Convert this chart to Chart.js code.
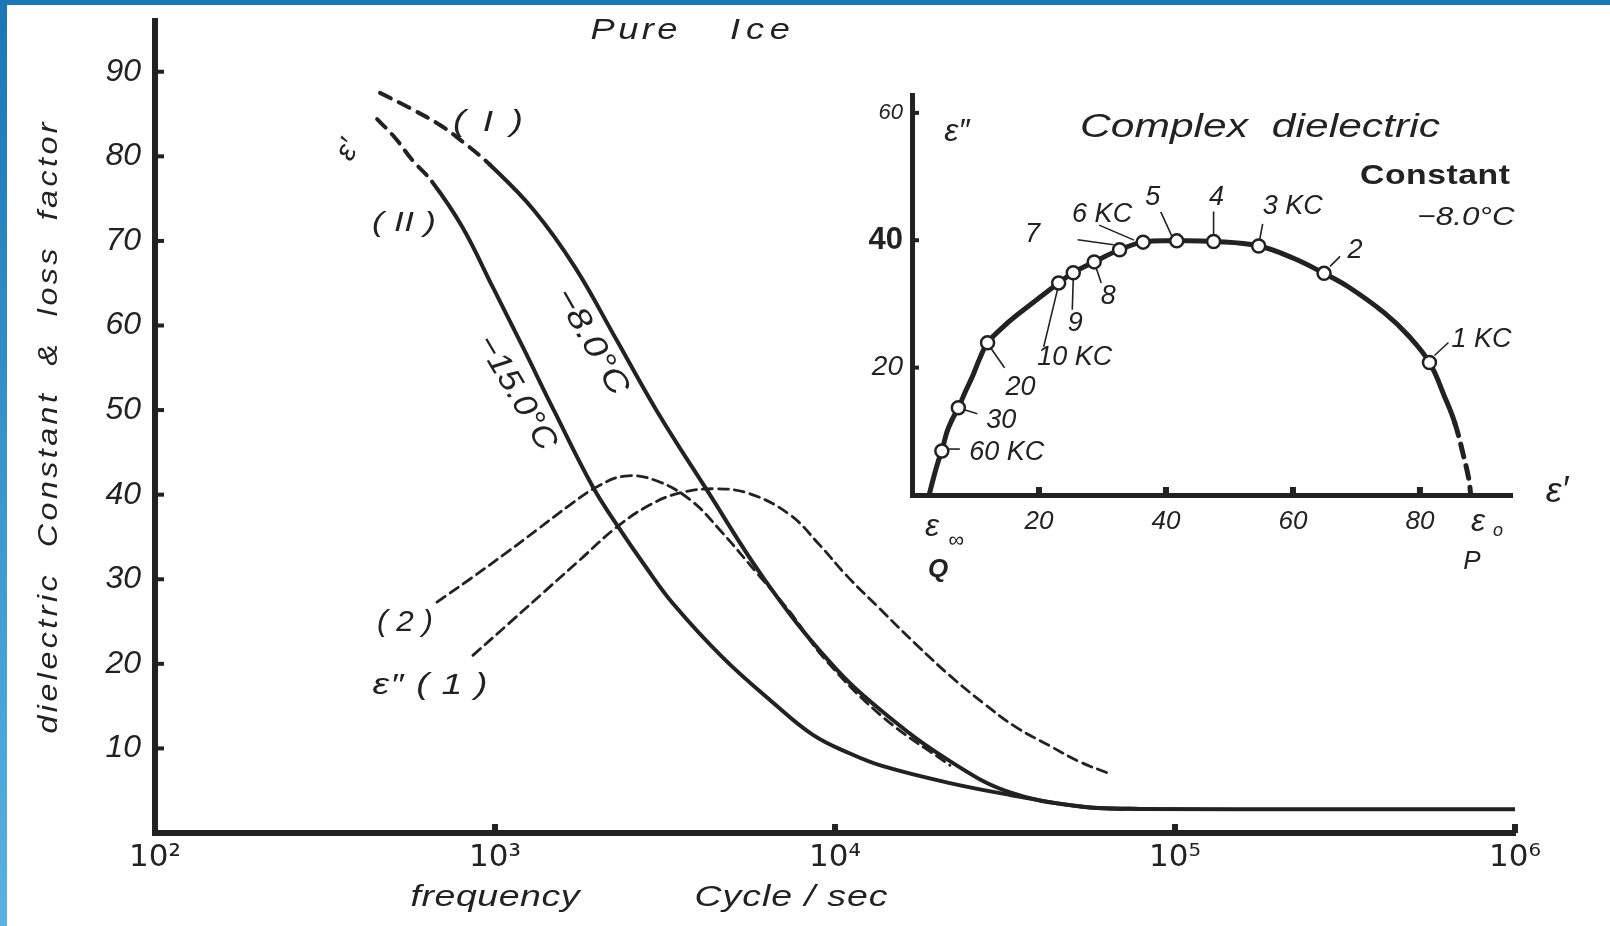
<!DOCTYPE html>
<html><head><meta charset="utf-8">
<script src="https://cdn.jsdelivr.net/npm/chart.js@4.4.1/dist/chart.umd.min.js"></script>
<style>
html,body{margin:0;padding:0;background:#fff;}
#wrap{position:relative;width:1610px;height:926px;overflow:hidden;background:#fff;}
#bl{position:absolute;left:0;top:0;width:7px;height:926px;background:linear-gradient(#1a76b6,#58b2e2);}
#bt{position:absolute;left:0;top:0;width:1610px;height:5px;background:#1b78b8;}
#main{position:absolute;left:0;top:0;}
#inset{position:absolute;left:820px;top:60px;}
</style></head><body>
<div id="wrap">
<canvas id="main" width="1610" height="926"></canvas>
<canvas id="inset" width="790" height="560"></canvas>
<div id="bl"></div><div id="bt"></div>
</div>
<script>
const INK = '#222';
const FONT = "'Liberation Sans', 'DejaVu Sans', sans-serif";

// ---------- main chart data ----------
const xTickValues = [1e2, 1e3, 1e4, 1e5, 1e6];
const xTickLabels = ['10²', '10³', '10⁴', '10⁵', '10⁶'];
const yTickValues = [10, 20, 30, 40, 50, 60, 70, 80, 90];

// (I) ε' at -8.0°C : extrapolated part (dashed) then measured part (solid)
const curveIExtFreq = [459, 562, 689, 805];
const curveIExtEps  = [87.5, 85.7, 83.7, 81.7];
const curveIFreq = [966, 1303, 1718, 2270, 2992, 4207, 6223, 9661, 13836, 21777, 32734, 53580, 78886, 316228, 1000000];
const curveIEps  = [79.0, 73.6, 66.9, 58.4, 49.9, 40.5, 29.9, 20.2, 14.3, 8.5, 4.8, 3.1, 2.85, 2.8, 2.8];

// (II) ε' at -15.0°C
const curveIIExtFreq = [450, 508, 570];
const curveIIExtEps  = [84.4, 82.2, 79.6];
const curveIIFreq = [653, 800, 986, 1216, 1493, 1941, 2286, 2761, 3342, 4688, 6577, 8610, 11066, 13836, 21777, 32734, 53580, 78886];
const curveIIEps  = [77.0, 71.7, 64.5, 57.2, 49.9, 40.9, 36.4, 31.6, 27.1, 20.7, 15.4, 11.6, 9.4, 7.9, 5.9, 4.5, 3.1, 2.85];

// (1) ε'' at -8.0°C ; (2) ε'' at -15.0°C
const loss1Freq = [861, 1107, 1403, 1778, 2286, 2858, 3499, 4436, 5623, 7379, 9036, 10839, 13552, 17418, 21777, 27227, 33806, 42855, 52602, 65313];
const loss1Eps  = [21.0, 24.9, 28.6, 32.3, 36.2, 38.8, 40.2, 40.7, 40.1, 37.6, 34.0, 30.4, 26.5, 22.2, 18.6, 15.4, 12.6, 10.3, 8.4, 6.9];
const loss2Freq = [675, 843, 1069, 1355, 1663, 2009, 2410, 2958, 3750, 4592, 5902, 7379, 9226, 13836, 21777];
const loss2Eps  = [27.3, 30.0, 33.0, 36.1, 38.8, 41.0, 42.2, 41.7, 39.4, 35.8, 30.7, 26.1, 20.8, 13.7, 8.0];

// ---------- inset (Cole-Cole plot, -8.0°C) data ----------
const insetXTicks = [20, 40, 60, 80];
const insetYTicks = [20, 40, 60];
const coleEps1 = [2.7, 3.5, 4.1, 4.7, 5.5, 6.3, 7.3, 8.4, 9.6, 10.7, 11.9, 14.7, 17.5, 23.1, 25.4, 28.7, 32.7, 36.4, 41.7, 47.5, 54.6, 60.0, 64.9, 68.7, 74.4, 78.2, 81.5, 83.9, 85.5];
const coleEps2 = [0, 3.1, 5.2, 6.9, 9.9, 11.8, 13.7, 16.2, 18.8, 21.5, 23.9, 26.7, 29.0, 33.3, 34.9, 36.6, 38.5, 39.7, 39.9, 39.8, 39.1, 37.2, 34.8, 32.7, 28.6, 25.0, 20.8, 15.4, 11.3];
const coleExtEps1 = [86.9, 87.7, 88.0];
const coleExtEps2 = [6.0, 2.5, 0];
const pointKc   = ['1 KC', '2', '3 KC', '4', '5', '6 KC', '7', '8', '9', '10 KC', '20', '30', '60 KC'];
const pointEps1 = [81.5, 64.9, 54.6, 47.5, 41.7, 36.4, 32.7, 28.7, 25.4, 23.1, 11.9, 7.3, 4.7];
const pointEps2 = [20.8, 34.8, 39.1, 39.8, 39.9, 39.7, 38.5, 36.6, 34.9, 33.3, 23.9, 13.7, 6.9];

// label placement (style only): text centre and leader line relative to each point, px
const kcLabelPlace = [
  {dx:52, dy:-23, a:[5,-7], b:[19,-20]},
  {dx:31, dy:-23, a:[6,-7], b:[16,-17]},
  {dx:34, dy:-39, a:[1,-6], b:[4,-22]},
  {dx:3,  dy:-44, a:[0,-6], b:[0,-30]},
  {dx:-24,dy:-43, a:[-5,-5], b:[-16,-29]},
  {dx:-41,dy:-28, a:[-9,-2], b:[-44,-17]},
  {dx:-87,dy:-15, a:[-6,-5], b:[-42,-10]},
  {dx:14, dy:35,  a:[2,6],  b:[7,21]},
  {dx:2,  dy:51,  a:[0,6],  b:[-1,37]},
  {dx:16, dy:75,  a:[-1,6], b:[-15,64]},
  {dx:33, dy:45,  a:[3,5],  b:[17,25]},
  {dx:43, dy:13,  a:[6,2],  b:[19,6]},
  {dx:65, dy:1,   a:[6,-2], b:[18,-2]}
];

function series(xs, ys) { return xs.map((x, i) => ({x: x, y: ys[i]})); }
// one smooth line; the first `dashedCount` segments are drawn dashed
function lineDs(xs, ys, width, dash, dashedCount) {
  const n = (dashedCount === undefined) ? (dash ? Infinity : 0) : dashedCount;
  return {data: series(xs, ys), showLine: true, borderColor: INK, borderWidth: width,
    pointRadius: 0, fill: false, tension: 0.4, borderCapStyle: 'round', borderJoinStyle: 'round',
    borderDash: (n === Infinity) ? dash : [],
    segment: { borderDash: (c) => (n !== Infinity && n > 0 && c.p0DataIndex < n) ? dash : undefined }};
}
function lineDsTail(xs, ys, width, dash, solidCount) {
  return {data: series(xs, ys), showLine: true, borderColor: INK, borderWidth: width,
    pointRadius: 0, fill: false, tension: 0.4, borderCapStyle: 'round', borderJoinStyle: 'round',
    borderDash: [],
    segment: { borderDash: (c) => (c.p0DataIndex >= solidCount - 1) ? dash : undefined }};
}

function drawText(ctx, t) {
  ctx.save();
  ctx.font = (t.style || 'italic') + ' ' + (t.weight || 'normal') + ' ' + t.size + 'px ' + (t.family || FONT);
  ctx.fillStyle = INK;
  ctx.textAlign = 'center';
  ctx.textBaseline = 'middle';
  let sx = 1, sp = 0;
  if (t.width) {
    if ('letterSpacing' in ctx) ctx.letterSpacing = '0px';
    const w = ctx.measureText(t.text).width;
    sx = Math.min(t.maxStretch || 1.25, Math.max(0.85, t.width / w));
    const rest = t.width - w * sx;
    if ('letterSpacing' in ctx && t.text.length > 1 && rest > 0) {
      sp = rest / sx / (t.text.length - 1);
      ctx.letterSpacing = sp.toFixed(2) + 'px';
    }
  }
  ctx.translate(t.x, t.y);
  if (t.rot) ctx.rotate(t.rot);
  ctx.scale(sx, 1);
  ctx.fillText(t.text, sp / 2, 0);
  ctx.restore();
}

const mainTexts = [
  {text:'Pure', x:634, y:31, size:29, width:87},
  {text:'Ice', x:760, y:31, size:29, width:60},
  {text:'( I )', x:488, y:123, size:30, width:70},
  {text:'ε′', x:348, y:150, size:30, rot:-1.1},
  {text:'( II )', x:404, y:223, size:28, width:64},
  {text:'−8.0°C', x:591, y:342, size:32, rot:1.05, width:118},
  {text:'−15.0°C', x:516, y:393, size:32, rot:1.04, width:128},
  {text:'( 2 )', x:405, y:623, size:30, width:56},
  {text:'ε″ ( 1 )', x:430, y:686, size:30, width:115},
  {text:'dielectric  Constant  &  loss  factor', x:49, y:428, size:28, rot:-Math.PI/2, width:611, maxStretch:1.15},
  {text:'frequency', x:495, y:898, size:30, width:169},
  {text:'Cycle / sec', x:791, y:898, size:30, width:193},
  // inset texts
  {text:'ε″', x:957, y:132, size:32},
  {text:'Complex  dielectric', x:1260, y:128, size:34, width:360},
  {text:'Constant', x:1435, y:177, size:27, weight:'bold', style:'normal', width:150},
  {text:'−8.0°C', x:1466, y:218, size:26, width:97},
  {text:'ε′', x:1557, y:492, size:36},
  {text:'ε', x:932, y:527, size:32},
  {text:'∞', x:956, y:541, size:22},
  {text:'Q', x:938, y:570, size:26, weight:'bold'},
  {text:'ε', x:1478, y:522, size:32},
  {text:'o', x:1498, y:531, size:18},
  {text:'P', x:1472, y:562, size:26}
];

const mainDecor = {
  id: 'mainDecor',
  afterDraw(chart) {
    const ctx = chart.ctx, sx = chart.scales.x, sy = chart.scales.y, a = chart.chartArea;
    ctx.save();
    ctx.fillStyle = INK;
    yTickValues.forEach(v => { const y = sy.getPixelForValue(v); ctx.fillRect(a.left, y - 2, 9, 4); });
    xTickValues.forEach(v => { const x = sx.getPixelForValue(v); ctx.fillRect(x - 3, a.bottom - 9, 6, 9); });
    ctx.restore();
    mainTexts.forEach(t => drawText(ctx, t));
  }
};

Chart.defaults.font.family = FONT;
Chart.defaults.color = INK;

new Chart(document.getElementById('main').getContext('2d'), {
  type: 'scatter',
  data: { datasets: [
    lineDs(curveIExtFreq.concat(curveIFreq), curveIExtEps.concat(curveIEps), 4, [12, 9], curveIExtFreq.length),
    lineDs(curveIIExtFreq.concat(curveIIFreq), curveIIExtEps.concat(curveIIEps), 4, [12, 9], curveIIExtFreq.length),
    lineDs(loss1Freq, loss1Eps, 2.8, [10, 6]),
    lineDs(loss2Freq, loss2Eps, 2.8, [10, 6])
  ]},
  options: {
    responsive: false, animation: false, devicePixelRatio: 1,
    layout: { autoPadding: false, padding: {left: 20, right: 95, top: 21, bottom: 0} },
    plugins: { legend: {display: false}, tooltip: {enabled: false} },
    scales: {
      x: {
        type: 'logarithmic', min: 100, max: 1e6,
        afterFit(s) { s.height = 93; s.paddingLeft = 0; s.paddingRight = 0; },
        afterBuildTicks(s) { s.ticks = xTickValues.map(v => ({value: v})); },
        ticks: { callback: (v) => xTickLabels[xTickValues.indexOf(v)], autoSkip: false, maxRotation: 0,
                 padding: 6, color: INK, font: {family: "'DejaVu Sans', sans-serif", size: 31} },
        grid: { display: false, drawTicks: false },
        border: { display: true, width: 6, color: INK }
      },
      y: {
        min: 0, max: 96,
        afterFit(s) { s.width = 135; s.paddingTop = 0; s.paddingBottom = 0; },
        afterBuildTicks(s) { s.ticks = yTickValues.map(v => ({value: v})); },
        ticks: { padding: 14, color: INK, font: {size: 32, style: 'italic', family: FONT} },
        grid: { display: false, drawTicks: false },
        border: { display: true, width: 6, color: INK }
      }
    }
  },
  plugins: [mainDecor]
});

// ---------- inset ----------
const insetDecor = {
  id: 'insetDecor',
  afterDraw(chart) {
    const ctx = chart.ctx, sx = chart.scales.x, sy = chart.scales.y, a = chart.chartArea;
    ctx.save();
    ctx.fillStyle = INK;
    insetYTicks.forEach(v => { const y = sy.getPixelForValue(v); ctx.fillRect(a.left, y - 2, 7, 4); });
    insetXTicks.forEach(v => { const x = sx.getPixelForValue(v); ctx.fillRect(x - 3, a.bottom - 8, 6, 8); });
    ctx.strokeStyle = INK; ctx.lineWidth = 1.6;
    pointKc.forEach((lab, i) => {
      const px = sx.getPixelForValue(pointEps1[i]), py = sy.getPixelForValue(pointEps2[i]);
      const p = kcLabelPlace[i];
      ctx.beginPath(); ctx.moveTo(px + p.a[0], py + p.a[1]); ctx.lineTo(px + p.b[0], py + p.b[1]); ctx.stroke();
    });
    ctx.restore();
    pointKc.forEach((lab, i) => {
      const px = sx.getPixelForValue(pointEps1[i]), py = sy.getPixelForValue(pointEps2[i]);
      const p = kcLabelPlace[i];
      drawText(ctx, {text: lab, x: px + p.dx, y: py + p.dy, size: 27});
    });
  }
};

new Chart(document.getElementById('inset').getContext('2d'), {
  type: 'scatter',
  data: { datasets: [
    { data: series(pointEps1, pointEps2), showLine: false, pointRadius: 6.5, pointBackgroundColor: '#fff',
      pointBorderColor: INK, pointBorderWidth: 2.5 },
    lineDsTail(coleEps1.concat(coleExtEps1), coleEps2.concat(coleExtEps2), 5, [13, 9], coleEps1.length)
  ]},
  options: {
    responsive: false, animation: false, devicePixelRatio: 1,
    layout: { autoPadding: false, padding: {left: 20, right: 98, top: 35, bottom: 0} },
    plugins: { legend: {display: false}, tooltip: {enabled: false} },
    scales: {
      x: {
        type: 'linear', min: 0, max: 94.5,
        afterFit(s) { s.height = 125; s.paddingLeft = 0; s.paddingRight = 0; },
        afterBuildTicks(s) { s.ticks = insetXTicks.map(v => ({value: v})); },
        ticks: { padding: 11, color: INK, font: {size: 26, style: 'italic', family: FONT} },
        grid: { display: false, drawTicks: false },
        border: { display: true, width: 5, color: INK }
      },
      y: {
        min: 0, max: 62.8,
        afterFit(s) { s.width = 72; s.paddingTop = 0; s.paddingBottom = 0; },
        afterBuildTicks(s) { s.ticks = insetYTicks.map(v => ({value: v})); },
        ticks: { padding: 9, color: INK,
          font: (c) => (c.tick && c.tick.value === 40) ? {size: 31, weight: 'bold', family: FONT}
                     : (c.tick && c.tick.value === 60) ? {size: 22, style: 'italic', family: FONT}
                     : {size: 28, style: 'italic', family: FONT} },
        grid: { display: false, drawTicks: false },
        border: { display: true, width: 5, color: INK }
      }
    }
  },
  plugins: [insetDecor]
});
</script>
</body></html>
